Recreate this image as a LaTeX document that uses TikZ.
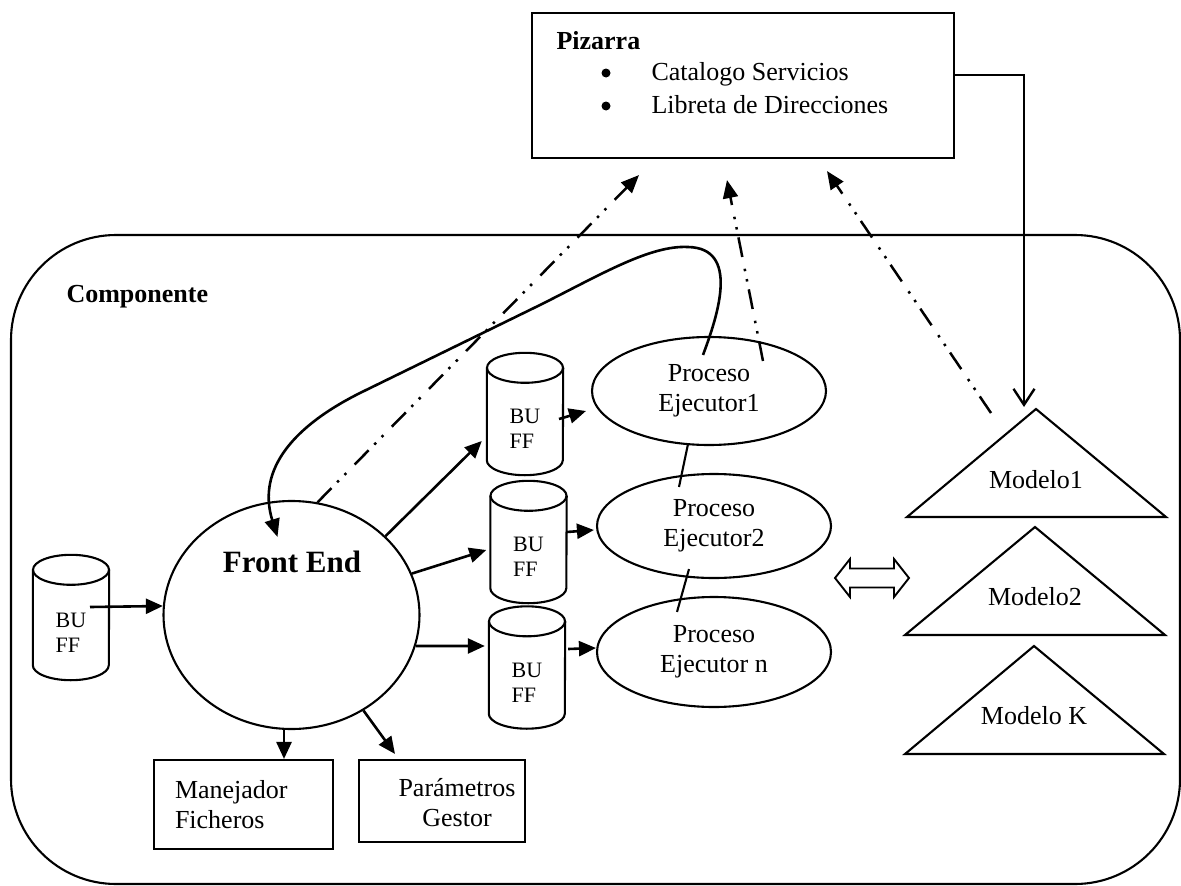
\documentclass[tikz,border=0pt]{standalone}
\usepackage{fontspec}
\setmainfont{Liberation Serif}
\usetikzlibrary{calc,arrows.meta,shapes.geometric}
\begin{document}
\begin{tikzpicture}[x=1pt,y=-1pt,
  shapeline/.style={line width=2.1pt},
  txt/.style={font=\fontsize{26}{30}\selectfont},
  heading/.style={font=\fontsize{26}{30}\selectfont\bfseries},
  bufftxt/.style={font=\fontsize{22}{25}\selectfont},
  frame/.style={draw, shapeline, rounded corners=105pt, minimum width=1169pt,
    minimum height=649pt, inner sep=0pt},
  buff/.style={minimum width=76pt, minimum height=92pt, inner sep=0pt,
    align=left, bufftxt},
  proc/.style={ellipse, draw, shapeline, minimum width=234pt,
    minimum height=108pt, inner sep=0pt, align=center, txt},
  box/.style={draw, shapeline, inner sep=0pt, txt},
  dot/.style={circle, fill, inner sep=0pt, minimum size=9pt},
  arr/.style={line width=2.6pt, -{Triangle[length=17pt,width=15pt]}},
  arrc/.style={line width=2.6pt, -{Triangle[length=18pt,width=15pt]}},
  dd/.style={line width=2.5pt,
    dash pattern=on 20pt off 8pt on 2.5pt off 8pt on 2.5pt off 12pt,
    -{Triangle[length=18pt,width=15pt]}},
  arrv/.style={line width=2.4pt, -{Straight Barb[length=16pt,width=21pt]}},
]
\useasboundingbox (0,0) rectangle (1181,886);

% component frame
\node[frame] (comp) at (595.5,559.5) {};
\node[heading, anchor=base west] (comptitle) at (63,302) {Componente};

% blackboard
\node[box, minimum width=422pt, minimum height=145pt] (piz) at (743,85.5) {};
\node[heading, anchor=base west] (piztitle) at (553,49) {Pizarra};
\node[dot] (b1) at (606,73) {};
\node[dot] (b2) at (606,106) {};
\node[txt, anchor=base west] (cat) at (648,80) {Catalogo Servicios};
\node[txt, anchor=base west] (lib) at (648,113) {Libreta de Direcciones};

% front end
\node[ellipse, draw, shapeline, minimum width=256pt, minimum height=228pt,
  inner sep=0pt] (fe) at (291.5,615) {};
\node[font=\fontsize{31}{36}\selectfont\bfseries] (fetitle) at (292,562) {Front End};

% buffers
\node[buff, minimum height=95pt] (c0) at (71,632.5) {BU\\FF};
\node[buff] (c1) at (525,429) {BU\\FF};
\node[buff] (c2) at (528.5,557) {BU\\FF};
\node[buff] (c3) at (527,682.5) {BU\\FF};
\foreach \c in {c0,c1,c2,c3}{
  \draw[shapeline] ($(\c.north west)+(0,-15)$) -- ($(\c.south west)+(0,-15)$)
    arc[start angle=180, end angle=360, x radius=38pt, y radius=15pt]
    -- ($(\c.north east)+(0,-15)$);
  \draw[shapeline] ($(\c.north)+(0,-15)$) ellipse [x radius=38pt, y radius=15pt];
}

% executor processes
\node[proc] (e1) at (709,391) {Proceso\\Ejecutor1};
\node[proc, minimum height=104pt] (e2) at (714,526) {Proceso\\Ejecutor2};
\node[proc, minimum height=110pt] (e3) at (714,652) {Proceso\\Ejecutor n};

% file handler and parameters
\node[box, minimum width=179pt, minimum height=89pt, text width=137pt,
  align=left] (man) at (243.5,804.5) {Manejador\\Ficheros};
\node[box, minimum width=166pt, minimum height=82pt] (par) at (442,801) {};
\node[txt, align=center] (partxt) at (457,803) {Parámetros\\Gestor};

% models
\node[txt] (m1) at (1036,480) {Modelo1};
\node[txt] (m2) at (1035,597) {Modelo2};
\node[txt] (m3) at (1034,716) {Modelo K};
\draw[shapeline] ($(m1)+(0,-71)$) -- ($(m1)+(130,37)$) -- ($(m1)+(-129,37)$) -- cycle;
\draw[shapeline] ($(m2)+(0,-70)$) -- ($(m2)+(130,38)$) -- ($(m2)+(-130,38)$) -- cycle;
\draw[shapeline] ($(m3)+(0,-70)$) -- ($(m3)+(130,38)$) -- ($(m3)+(-129,38)$) -- cycle;

% exchange between processes and models
\coordinate (dbl) at (872,578);
\draw[line width=1.9pt] ($(dbl)+(-37,0)$) -- ++(15,-19) -- ++(0,9.5) -- ++(44,0)
  -- ++(0,-9.5) -- ++(15,19) -- ++(-15,19) -- ++(0,-9.5) -- ++(-44,0)
  -- ++(0,9.5) -- cycle;

% data flow
\draw[arr] ($(c0.center)+(19,-25.5)$) -- (fe.176);
\draw[arr] (fe.40) -- ($(c1.west)+(-5,12)$);
\draw[arr] (fe.19) -- ($(c2.west)+(-4,-7)$);
\draw[arr] (fe.346) -- ($(c3.west)+(-4,-36.5)$);
\draw[arr] ($(c1.center)+(34,-10)$) -- ($(e1.west)+(-5,20)$);
\draw[arr] ($(c2.east)+(0,-25)$) -- ($(e2.west)+(-2,4)$);
\draw[arr] ($(c3.east)+(3,-33.5)$) -- ($(e3.west)+(0,-4)$);
\coordinate (mf) at ($(fe.south)+(-7.5,0)$);
\draw[arr] (mf) -- (mf |- man.north);
\draw[arr] (fe.307) -- ($(par.north)+(-47,-5)$);

% links between processes
\draw[shapeline] ($(e1.south)+(-21,-2)$) -- ($(e2.north)+(-35,14)$);
\draw[shapeline] ($(e2.south)+(-25,-10)$) -- ($(e3.north)+(-37,16)$);

% feedback from the first executor to the front end
\draw[arrc] ($(e1.north)+(-6,19)$) .. controls (718,315) and (740,248) .. (688,247)
  .. controls (650,245) and (600,275) .. (540,305) -- (360,393)
  .. controls (296,425) and (256,468) .. ($(fe.north)+(-14,37)$);

% registration with the blackboard
\draw[dd] (fe.77) -- ($(piz.south)+(-104,16)$);
\draw[dd] ($(e1.north)+(54,25)$) -- ($(piz.south)+(-16,21)$);
\draw[dd] ($(m1)+(-45,-67)$) -- ($(piz.south)+(84,12)$);

% blackboard feeds the models
\draw[arrv] ($(piz.east)+(0,-10.5)$) -| ($(m1)+(-12,-73)$);
\end{tikzpicture}
\end{document}
